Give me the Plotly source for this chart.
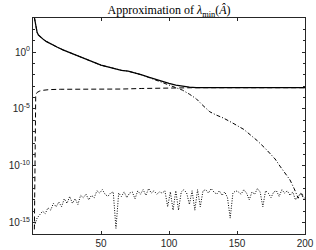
import plotly.graph_objects as go

# ---- data (log10 values) ----
solid_x = [1, 2, 3, 4, 6, 8, 10, 14, 18, 22, 26, 30, 35, 40, 46, 50, 55, 60, 65, 70, 75, 80, 85,
           90, 95, 100, 105, 110, 115, 120, 130, 140, 150, 160, 170, 180, 190, 200]
solid_log = [3.05, 2.2, 1.75, 1.5, 1.25, 1.08, 0.92, 0.65, 0.42, 0.2, 0.0, -0.2, -0.45, -0.7, -0.98,
             -1.15, -1.3, -1.45, -1.6, -1.68, -1.82, -2.0, -2.2, -2.4, -2.58, -2.75, -2.9, -3.0,
             -3.08, -3.12, -3.13, -3.13, -3.13, -3.13, -3.13, -3.13, -3.13, -3.13]

dashed_x = [1, 2, 3, 5, 8, 12, 20, 35, 50, 65, 80, 90, 100, 110, 120, 140, 160, 180, 200]
dashed_log = [-15.6, -3.75, -3.55, -3.42, -3.35, -3.3, -3.27, -3.27, -3.27, -3.25, -3.2, -3.17,
              -3.15, -3.13, -3.13, -3.13, -3.13, -3.13, -3.13]

dashdot_x = [1, 2, 3, 4, 6, 8, 10, 14, 18, 22, 26, 30, 35, 40, 46, 50, 55, 60, 65, 70, 75, 80, 85,
             90, 95, 100, 105, 110, 115, 120, 125, 130, 135, 140, 147, 155, 160, 165, 171, 178,
             182, 186, 189, 192, 194, 195, 196, 197, 198, 199, 200]
dashdot_log = [3.05, 2.2, 1.75, 1.5, 1.25, 1.08, 0.92, 0.65, 0.42, 0.2, 0.0, -0.2, -0.45, -0.7, -0.98,
               -1.15, -1.3, -1.45, -1.6, -1.68, -1.82, -2.0, -2.22, -2.45, -2.65, -2.85, -3.1,
               -3.35, -3.7, -4.1, -4.7, -5.25, -5.55, -5.8, -6.25, -6.8, -7.3, -7.8, -8.5, -9.4,
               -10.1, -10.7, -11.25, -12.0, -12.6, -12.85, -12.6, -12.4, -12.6, -12.9, -12.8]

dotted_x = list(range(1, 200, 2))
dotted_log = [-15.3, -14.6, -14.3, -14.0, -14.2, -13.7, -13.9, -13.3, -13.6, -13.2,
              -13.6, -12.9, -13.3, -12.7, -13.3, -12.9, -13.4, -12.6, -12.8, -12.5,
              -13.0, -12.6, -12.8, -12.2, -12.4, -12.1, -12.5, -12.7, -12.4, -12.3,
              -15.5, -12.4, -12.7, -12.3, -12.8, -12.4, -12.3, -12.9, -12.2, -12.5,
              -12.1, -12.6, -12.0, -12.4, -12.2, -12.5, -12.3, -12.4, -12.2, -13.6,
              -12.3, -13.9, -12.2, -13.9, -12.3, -12.1, -12.4, -13.4, -12.2, -13.9,
              -12.1, -13.6, -12.2, -12.1, -12.4, -12.0, -12.3, -12.5, -12.2, -12.6,
              -12.3, -12.8, -14.6, -12.4, -12.2, -12.3, -12.5, -12.1, -12.4, -13.0,
              -12.3, -12.5, -12.0, -12.3, -13.6, -12.2, -12.4, -12.8, -12.3, -12.2,
              -12.7, -12.1, -12.4, -12.2, -12.6, -12.3, -13.0, -12.7, -12.4, -12.6]

x_ticks = [50, 100, 150, 200]
y_tick_exp = [-15, -10, -5, 0]
title_text = "Approximation of <i>λ</i><sub>min</sub>(<i>Â</i>)"


def tv(v):
    return [10 ** e for e in v]


fig = go.Figure()
fig.add_trace(go.Scatter(x=dotted_x, y=tv(dotted_log), mode="lines", hoverinfo="skip",
                         line=dict(color="black", width=1, dash="1px,1.5px")))
fig.add_trace(go.Scatter(x=dashdot_x, y=tv(dashdot_log), mode="lines", hoverinfo="skip",
                         line=dict(color="black", width=1, dash="4px,2px,1px,2px")))
fig.add_trace(go.Scatter(x=dashed_x, y=tv(dashed_log), mode="lines", hoverinfo="skip",
                         line=dict(color="black", width=1, dash="5px,3px")))
fig.add_trace(go.Scatter(x=solid_x, y=tv(solid_log), mode="lines", hoverinfo="skip",
                         line=dict(color="black", width=1.2)))

axis_col = "#262626"
fig.update_layout(
    width=316, height=250,
    margin=dict(l=33, r=11, t=18, b=16, autoexpand=False),
    paper_bgcolor="white", plot_bgcolor="white",
    showlegend=False,
    title=dict(text=title_text, x=0.535, xanchor="center", y=0.96, yanchor="middle",
               automargin=False,
               font=dict(family="Liberation Serif, DejaVu Serif, serif", size=12, color="#000000")),
    font=dict(family="Liberation Sans, Arial, sans-serif", size=10, color=axis_col),
)
fig.update_xaxes(range=[0, 200], tickvals=x_ticks, ticks="inside", ticklen=3, tickcolor=axis_col,
                 showline=True, linecolor=axis_col, linewidth=1, mirror="ticks", automargin=False,
                 showgrid=False, zeroline=False, tickfont=dict(size=10, color=axis_col))
fig.update_yaxes(type="log", range=[-16, 3], tickvals=tv(y_tick_exp),
                 ticktext=["10<sup>%d</sup>" % e for e in y_tick_exp],
                 ticks="inside", ticklen=3, tickcolor=axis_col, automargin=False,
                 minor=dict(tickvals=tv(list(range(-16, 4))), ticks="inside", ticklen=2,
                            tickcolor=axis_col, showgrid=False),
                 showline=True, linecolor=axis_col, linewidth=1, mirror="ticks",
                 showgrid=False, zeroline=False, tickfont=dict(size=10, color=axis_col))

fig.write_html("out.html", config={"displayModeBar": False},
               post_script="document.body.style.margin='0px';document.body.style.padding='0px';")
